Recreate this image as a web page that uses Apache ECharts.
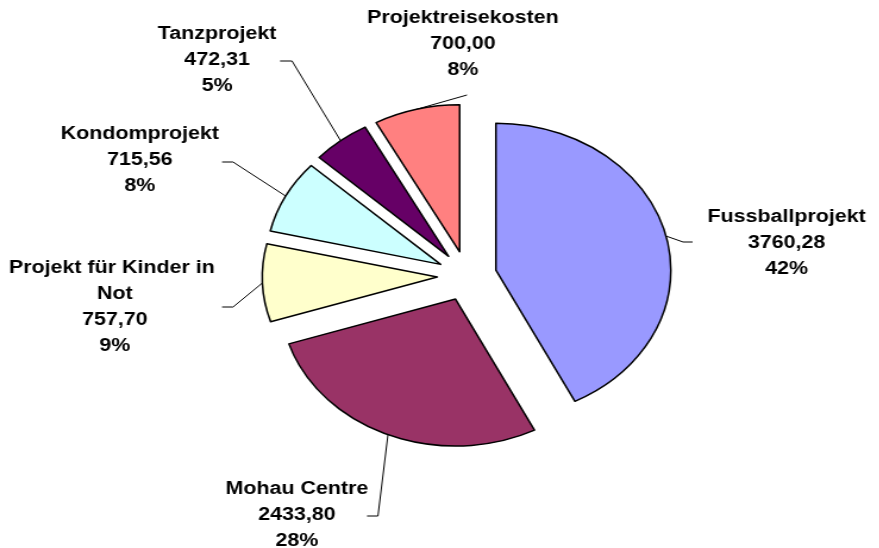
<!DOCTYPE html>
<html>
<head>
<meta charset="utf-8">
<script src="https://cdn.jsdelivr.net/npm/echarts@6/dist/echarts.min.js"></script>
<style>
  html, body { margin: 0; padding: 0; overflow: hidden; background: #fff; }
  #chart { position: absolute; left: 0; top: 0; height: 548px; transform-origin: 0 0; }
</style>
</head>
<body>
<div id="chart"></div>
<script>
// the reference is a stretched excel pie, so draw round and widen the box
var SX = 1.19;

var names = ['Fussballprojekt', 'Mohau Centre', 'Projekt für Kinder in Not', 'Kondomprojekt', 'Tanzprojekt', 'Projektreisekosten'];
var values = [3760.28, 2433.80, 757.70, 715.56, 472.31, 700.00];
var pctLabels = ['42%', '28%', '9%', '8%', '5%', '8%'];
var colors = ['#9999FF', '#993366', '#FFFFCC', '#CCFFFF', '#660066', '#FF8080'];

var CENTER = [392.4, 276];
var RADIUS = 147;
var OFFSET = 25;

// label centre x,y / elbow x,y / end x (unstretched px)
var labelSpots = [
  [661, 243, 574, 242, 582],
  [249.6, 515, 317.6, 516, 308.4],
  [96.6, 307, 195.8, 307, 186.6],
  [117.6, 160, 195.8, 162, 186.6],
  [182.4, 60, 245.4, 61, 235.3],
  [389, 44, 392.4, 95, 392.4]
];

var dom = document.getElementById('chart');
dom.style.width = (879 / SX) + 'px';
dom.style.transform = 'scaleX(' + SX + ')';

var chart = echarts.init(dom, null, { renderer: 'canvas' });

var option = {
  animation: false,
  series: [{
    type: 'pie',
    center: CENTER,
    radius: RADIUS,
    startAngle: 90,
    clockwise: true,
    avoidLabelOverlap: false,
    selectedMode: 'multiple',
    selectedOffset: OFFSET,
    emphasis: { disabled: true },
    itemStyle: { borderColor: '#000', borderWidth: 1.5 },
    label: {
      show: true,
      color: '#000',
      fontFamily: 'Liberation Sans',
      fontWeight: 'bold',
      fontSize: 18,
      lineHeight: 26,
      width: 190,
      overflow: 'break',
      formatter: function (p) {
        return p.name + '\n' + values[p.dataIndex].toFixed(2).replace('.', ',') + '\n' + pctLabels[p.dataIndex];
      }
    },
    labelLine: { show: true, smooth: false, lineStyle: { color: '#000', width: 1 } },
    labelLayout: function (p) {
      var s = labelSpots[p.dataIndex];
      var r = p.labelRect;
      var p0 = p.labelLinePoints[0];
      // label and guide line both get the exploded slice's shift added later
      var ox = (p0[0] - CENTER[0]) / RADIUS * OFFSET;
      var oy = (p0[1] - CENTER[1]) / RADIUS * OFFSET;
      var ax = p.align === 'left' ? r.x : p.align === 'right' ? r.x + r.width : r.x + r.width / 2;
      var ay = p.verticalAlign === 'top' ? r.y : p.verticalAlign === 'bottom' ? r.y + r.height : r.y + r.height / 2;
      return {
        align: 'center',
        verticalAlign: 'middle',
        dx: s[0] - ax - ox,
        dy: s[1] - ay - oy,
        labelLinePoints: [p0, [s[2] - ox, s[3] - oy], [s[4] - ox, s[3] - oy]]
      };
    },
    data: names.map(function (n, i) {
      return { name: n, value: values[i], selected: true, itemStyle: { color: colors[i] } };
    })
  }]
};

chart.setOption(option);
</script>
</body>
</html>
